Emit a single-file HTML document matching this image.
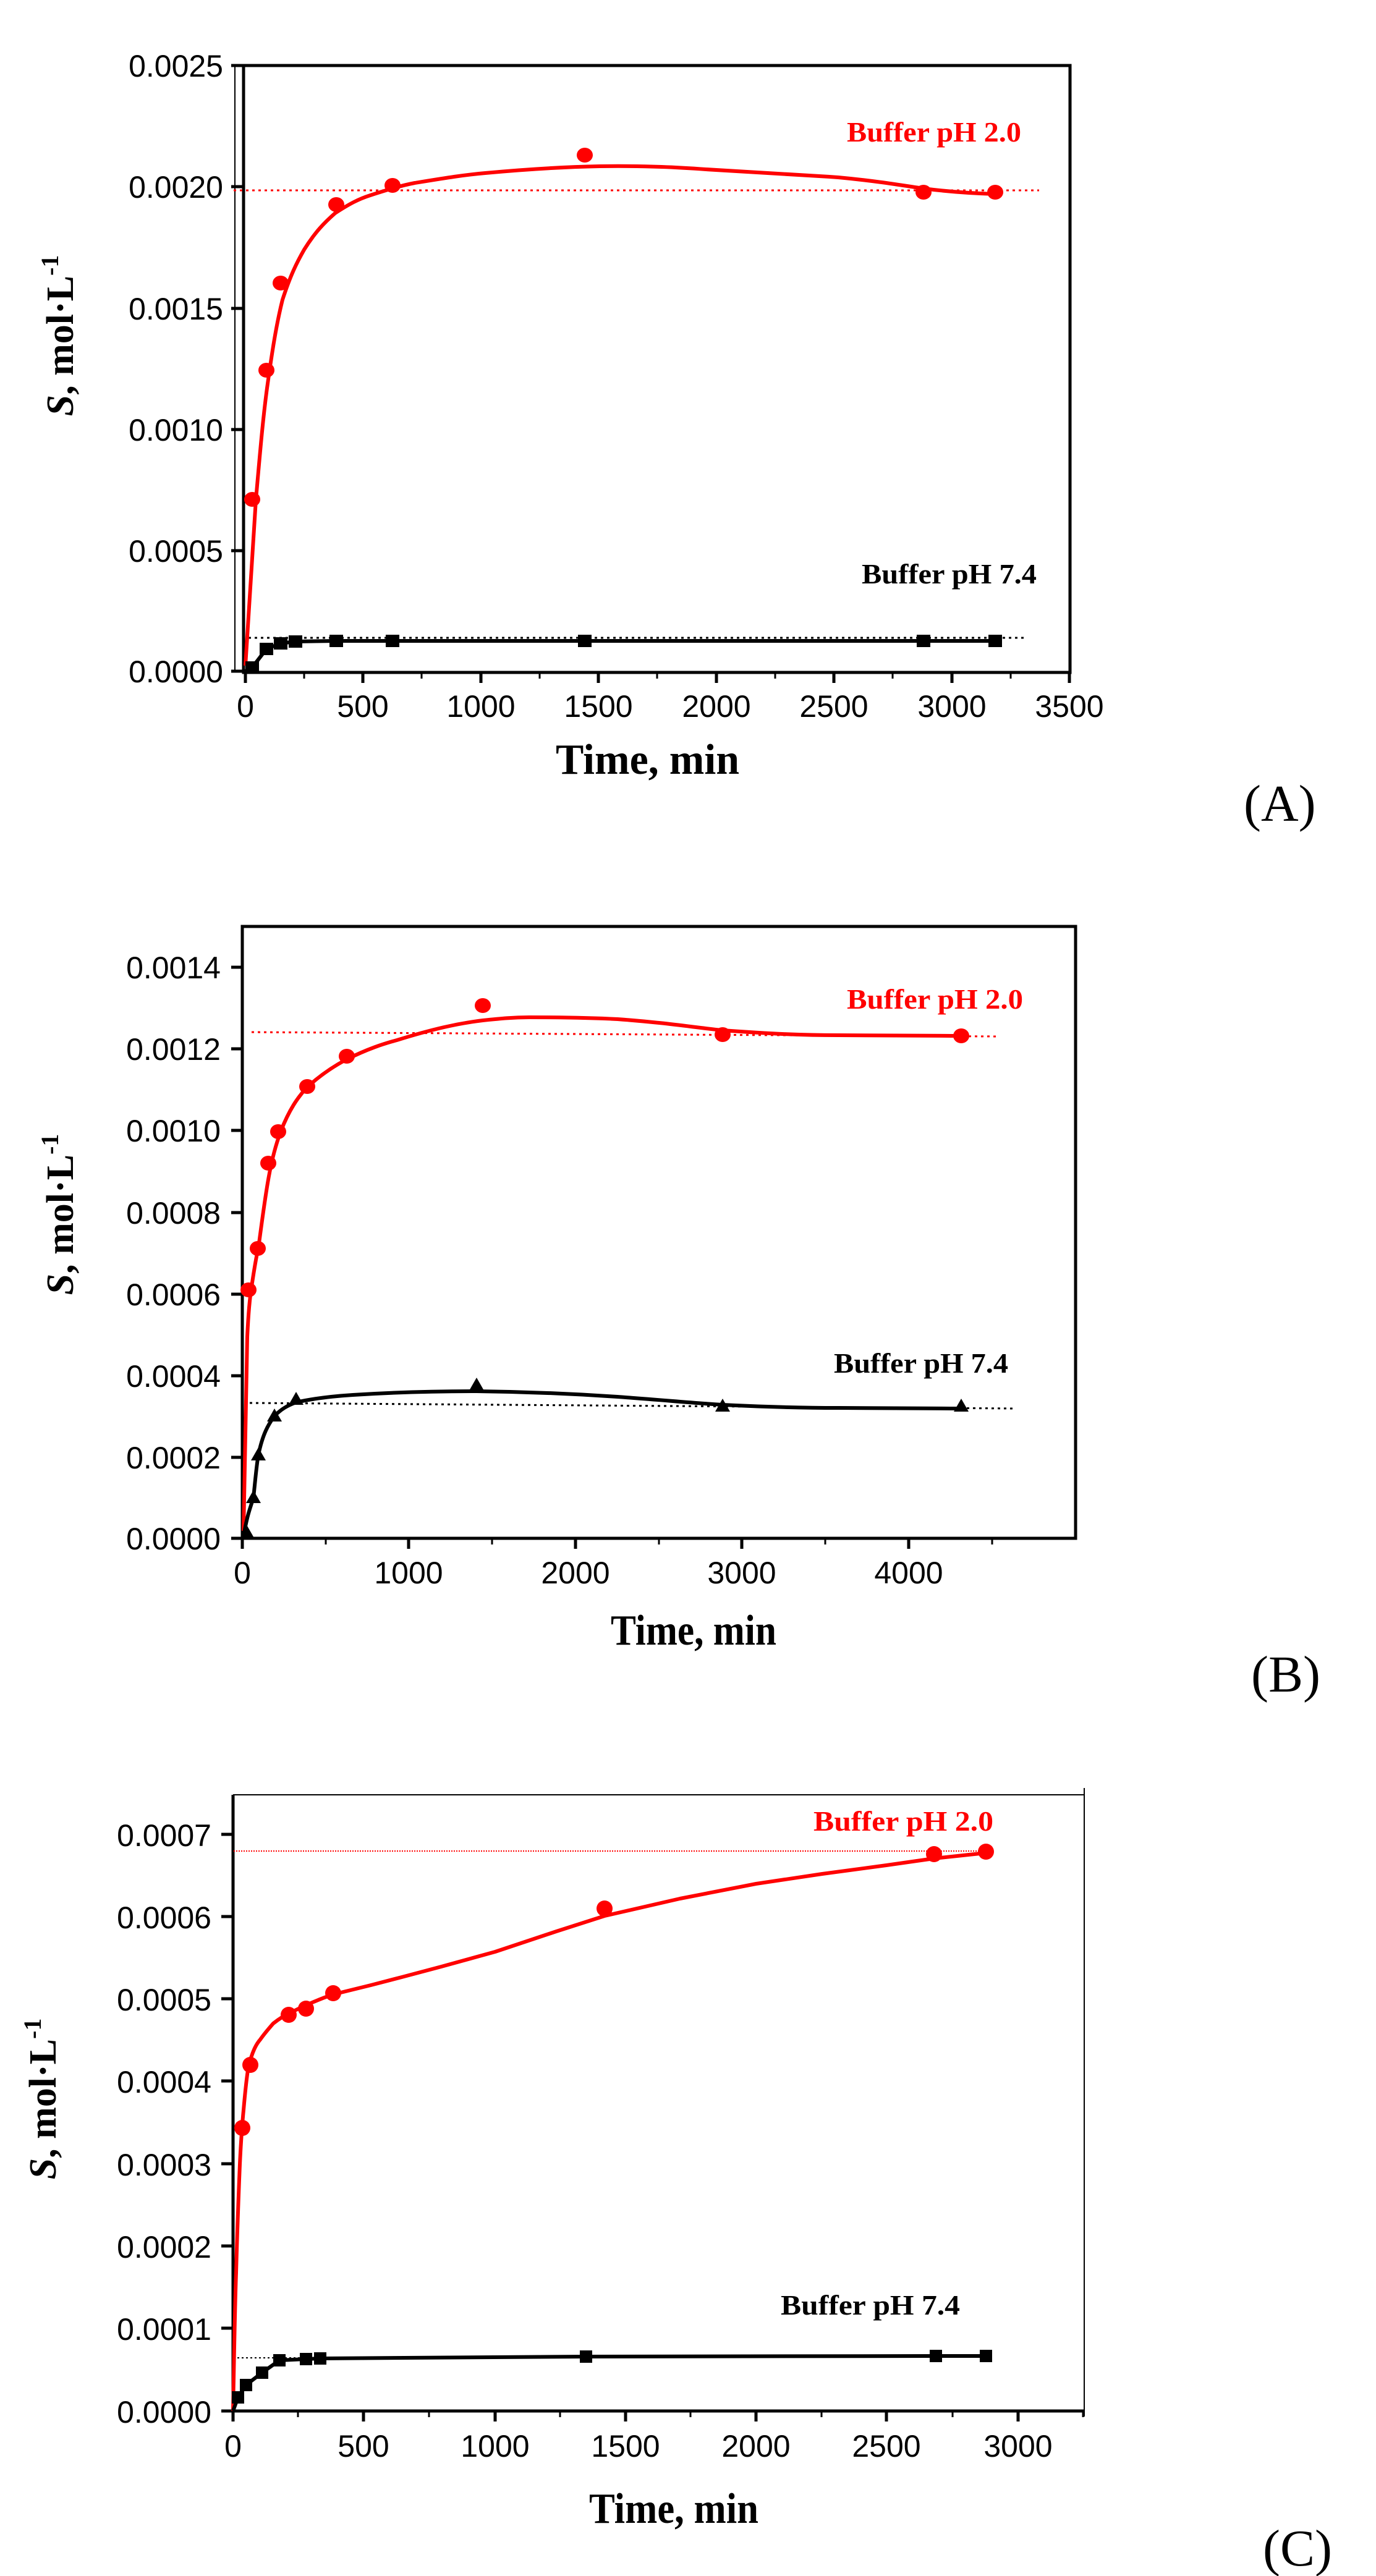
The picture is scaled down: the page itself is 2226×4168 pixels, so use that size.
<!DOCTYPE html>
<html><head><meta charset="utf-8"><style>
html,body{margin:0;padding:0;background:#fff}
svg{display:block}
.tl{font-family:"Liberation Sans",sans-serif;font-size:50px;fill:#000}
.ax{font-family:"Liberation Serif",serif;font-weight:bold;font-size:70px;fill:#000}
.yl{font-family:"Liberation Serif",serif;font-weight:bold;font-size:62px;fill:#000}
.lb{font-family:"Liberation Serif",serif;font-weight:bold;font-size:46px}
.pl{font-family:"Liberation Serif",serif;font-size:84px;fill:#000}
</style></head><body>
<svg width="2226" height="4168" viewBox="0 0 2226 4168" xmlns="http://www.w3.org/2000/svg">
<rect width="2226" height="4168" fill="#fff"/>

<!-- ============ PANEL A ============ -->
<g>
<line x1="380" y1="106" x2="380" y2="1088" stroke="#000" stroke-width="2"/>
<path d="M394 106 H1731 V1088 H394 Z" fill="none" stroke="#000" stroke-width="5"/>
<g stroke="#000" stroke-width="5">
<line x1="374" y1="106" x2="394" y2="106"/><line x1="374" y1="302" x2="394" y2="302"/>
<line x1="374" y1="499" x2="394" y2="499"/><line x1="374" y1="695" x2="394" y2="695"/>
<line x1="374" y1="891" x2="394" y2="891"/><line x1="374" y1="1086" x2="394" y2="1086"/>
<line x1="397" y1="1088" x2="397" y2="1105"/><line x1="587" y1="1088" x2="587" y2="1105"/>
<line x1="778" y1="1088" x2="778" y2="1105"/><line x1="968" y1="1088" x2="968" y2="1105"/>
<line x1="1159" y1="1088" x2="1159" y2="1105"/><line x1="1349" y1="1088" x2="1349" y2="1105"/>
<line x1="1540" y1="1088" x2="1540" y2="1105"/><line x1="1730" y1="1088" x2="1730" y2="1105"/>
</g>
<g stroke="#000" stroke-width="3">
<line x1="492" y1="1088" x2="492" y2="1098"/><line x1="682" y1="1088" x2="682" y2="1098"/>
<line x1="873" y1="1088" x2="873" y2="1098"/><line x1="1063" y1="1088" x2="1063" y2="1098"/>
<line x1="1254" y1="1088" x2="1254" y2="1098"/><line x1="1444" y1="1088" x2="1444" y2="1098"/>
<line x1="1635" y1="1088" x2="1635" y2="1098"/>
</g>
<g class="tl" text-anchor="end">
<text x="361" y="124">0.0025</text><text x="361" y="320">0.0020</text>
<text x="361" y="517">0.0015</text><text x="361" y="713">0.0010</text>
<text x="361" y="909">0.0005</text><text x="361" y="1104">0.0000</text>
</g>
<g class="tl" text-anchor="middle">
<text x="397" y="1160">0</text><text x="587" y="1160">500</text><text x="778" y="1160">1000</text>
<text x="968" y="1160">1500</text><text x="1159" y="1160">2000</text><text x="1349" y="1160">2500</text>
<text x="1540" y="1160">3000</text><text x="1730" y="1160">3500</text>
</g>
<text class="ax" x="899" y="1252" textLength="297" lengthAdjust="spacingAndGlyphs">Time, min</text>
<text class="yl" transform="translate(118,543) rotate(-90)" text-anchor="middle"><tspan font-style="italic">S</tspan>, mol·L<tspan dy="-24" font-size="40">-1</tspan></text>
<text class="pl" x="2012" y="1328">(A)</text>
<text class="lb" fill="#f00" x="1370" y="229" textLength="282" lengthAdjust="spacingAndGlyphs">Buffer pH 2.0</text>
<text class="lb" fill="#000" x="1394" y="944" textLength="283" lengthAdjust="spacingAndGlyphs">Buffer pH 7.4</text>
<line x1="378" y1="308" x2="1681" y2="308" stroke="#f00" stroke-width="3" stroke-dasharray="4,6"/>
<line x1="402" y1="1032" x2="1662" y2="1032" stroke="#000" stroke-width="3" stroke-dasharray="4,6"/>
<path d="M397 1077 C405 950 410 860 414 808 C420 740 425 680 432 628 C440 570 447 525 457 485 C470 445 480 425 492 404 C510 375 525 360 542 345 C565 330 580 322 599 316 C630 306 650 300 671 296 C720 288 750 283 785 280 C860 273 920 270 970 269 C1050 268 1100 271 1142 274 C1250 281 1300 283 1356 287 C1420 293 1460 300 1494 305 C1540 311 1580 313 1610 314" fill="none" stroke="#f00" stroke-width="6"/>
<g fill="#f00">
<ellipse cx="408" cy="808" rx="13" ry="12"/><ellipse cx="431" cy="599" rx="13" ry="12"/>
<ellipse cx="454" cy="458" rx="13" ry="12"/><ellipse cx="544" cy="331" rx="13" ry="12"/>
<ellipse cx="635" cy="300" rx="13" ry="12"/><ellipse cx="946" cy="251" rx="13" ry="12"/>
<ellipse cx="1494" cy="311" rx="13" ry="12"/><ellipse cx="1610" cy="311" rx="13" ry="12"/>
</g>
<polyline points="397,1086 408,1080 431,1050 454,1041 478,1038 544,1037 635,1037 946,1037 1494,1037 1610,1037" fill="none" stroke="#000" stroke-width="6"/>
<g fill="#000">
<rect x="397" y="1070" width="22" height="20"/><rect x="420" y="1040" width="22" height="20"/>
<rect x="443" y="1031" width="22" height="20"/><rect x="467" y="1028" width="22" height="20"/>
<rect x="533" y="1027" width="22" height="20"/><rect x="624" y="1027" width="22" height="20"/>
<rect x="935" y="1027" width="22" height="20"/><rect x="1483" y="1027" width="22" height="20"/>
<rect x="1599" y="1027" width="22" height="20"/>
</g>
</g>

<!-- ============ PANEL B ============ -->
<g>
<path d="M392 1499 H1740 V2489 H392 Z" fill="none" stroke="#000" stroke-width="5"/>
<g stroke="#000" stroke-width="5">
<line x1="374" y1="1565" x2="392" y2="1565"/><line x1="374" y1="1697" x2="392" y2="1697"/>
<line x1="374" y1="1829" x2="392" y2="1829"/><line x1="374" y1="1962" x2="392" y2="1962"/>
<line x1="374" y1="2094" x2="392" y2="2094"/><line x1="374" y1="2226" x2="392" y2="2226"/>
<line x1="374" y1="2358" x2="392" y2="2358"/><line x1="374" y1="2489" x2="392" y2="2489"/>
<line x1="392" y1="2489" x2="392" y2="2506"/><line x1="661" y1="2489" x2="661" y2="2506"/>
<line x1="931" y1="2489" x2="931" y2="2506"/><line x1="1200" y1="2489" x2="1200" y2="2506"/>
<line x1="1470" y1="2489" x2="1470" y2="2506"/>
</g>
<g stroke="#000" stroke-width="3">
<line x1="527" y1="2489" x2="527" y2="2499"/><line x1="796" y1="2489" x2="796" y2="2499"/>
<line x1="1066" y1="2489" x2="1066" y2="2499"/><line x1="1335" y1="2489" x2="1335" y2="2499"/>
<line x1="1605" y1="2489" x2="1605" y2="2499"/>
</g>
<g class="tl" text-anchor="end">
<text x="357" y="1583">0.0014</text><text x="357" y="1715">0.0012</text>
<text x="357" y="1847">0.0010</text><text x="357" y="1980">0.0008</text>
<text x="357" y="2112">0.0006</text><text x="357" y="2244">0.0004</text>
<text x="357" y="2376">0.0002</text><text x="357" y="2507">0.0000</text>
</g>
<g class="tl" text-anchor="middle">
<text x="392" y="2562">0</text><text x="661" y="2562">1000</text><text x="931" y="2562">2000</text>
<text x="1200" y="2562">3000</text><text x="1470" y="2562">4000</text>
</g>
<text class="ax" x="988" y="2661" textLength="268" lengthAdjust="spacingAndGlyphs">Time, min</text>
<text class="yl" transform="translate(118,1965) rotate(-90)" text-anchor="middle"><tspan font-style="italic">S</tspan>, mol·L<tspan dy="-24" font-size="40">-1</tspan></text>
<text class="pl" x="2024" y="2737">(B)</text>
<text class="lb" fill="#f00" x="1370" y="1632" textLength="285" lengthAdjust="spacingAndGlyphs">Buffer pH 2.0</text>
<text class="lb" fill="#000" x="1349" y="2221" textLength="282" lengthAdjust="spacingAndGlyphs">Buffer pH 7.4</text>
<line x1="407" y1="1670" x2="1613" y2="1677" stroke="#f00" stroke-width="3" stroke-dasharray="4,6"/>
<line x1="404" y1="2270" x2="1641" y2="2279" stroke="#000" stroke-width="3" stroke-dasharray="4,6"/>
<path d="M394 2477 C397 2350 398 2230 400 2163 C402 2120 404 2100 407 2082 C411 2055 414 2035 418 2019 C424 1975 429 1935 435 1903 C441 1870 447 1850 454 1831 C468 1795 482 1775 497 1759 C520 1738 540 1725 561 1714 C595 1697 620 1689 642 1683 C700 1665 740 1656 781 1651 C810 1648 830 1646 856 1646 C920 1646 960 1647 999 1649 C1080 1655 1120 1662 1169 1667 C1250 1673 1300 1675 1356 1675 C1450 1676 1500 1676 1555 1676" fill="none" stroke="#f00" stroke-width="6"/>
<g fill="#f00">
<ellipse cx="402" cy="2087" rx="13" ry="12"/><ellipse cx="417" cy="2020" rx="13" ry="12"/>
<ellipse cx="434" cy="1882" rx="13" ry="12"/><ellipse cx="450" cy="1831" rx="13" ry="12"/>
<ellipse cx="497" cy="1758" rx="13" ry="12"/><ellipse cx="561" cy="1709" rx="13" ry="12"/>
<ellipse cx="781" cy="1627" rx="13" ry="12"/><ellipse cx="1169" cy="1674" rx="13" ry="12"/>
<ellipse cx="1555" cy="1676" rx="13" ry="12"/>
</g>
<path d="M394 2486 C400 2450 405 2440 410 2423 C413 2395 415 2370 418 2354 C425 2320 434 2305 444 2291 C455 2280 465 2274 479 2269 C510 2262 540 2259 571 2257 C650 2252 720 2251 771 2251 C860 2252 940 2256 999 2260 C1080 2266 1120 2270 1169 2273 C1250 2277 1300 2278 1356 2278 C1450 2279 1500 2279 1555 2279" fill="none" stroke="#000" stroke-width="6"/>
<g fill="#000">
<polygon points="400,2469 388,2490 412,2490"/><polygon points="410,2411 398,2432 422,2432"/>
<polygon points="418,2342 406,2363 430,2363"/><polygon points="444,2279 432,2300 456,2300"/>
<polygon points="479,2252 467,2273 491,2273"/><polygon points="771,2229 759,2250 783,2250"/>
<polygon points="1169,2263 1157,2284 1181,2284"/><polygon points="1555,2263 1543,2284 1567,2284"/>
</g>
</g>

<!-- ============ PANEL C ============ -->
<g>
<line x1="377" y1="2904" x2="1754" y2="2904" stroke="#000" stroke-width="2"/>
<line x1="1754" y1="2893" x2="1754" y2="3910" stroke="#000" stroke-width="2"/>
<line x1="377" y1="2904" x2="377" y2="3903" stroke="#000" stroke-width="5"/>
<line x1="377" y1="3901" x2="1754" y2="3901" stroke="#000" stroke-width="5"/>
<g stroke="#000" stroke-width="5">
<line x1="358" y1="2968" x2="377" y2="2968"/><line x1="358" y1="3101" x2="377" y2="3101"/>
<line x1="358" y1="3234" x2="377" y2="3234"/><line x1="358" y1="3367" x2="377" y2="3367"/>
<line x1="358" y1="3501" x2="377" y2="3501"/><line x1="358" y1="3634" x2="377" y2="3634"/>
<line x1="358" y1="3767" x2="377" y2="3767"/><line x1="358" y1="3901" x2="377" y2="3901"/>
<line x1="377" y1="3901" x2="377" y2="3918"/><line x1="588" y1="3901" x2="588" y2="3918"/>
<line x1="801" y1="3901" x2="801" y2="3918"/><line x1="1012" y1="3901" x2="1012" y2="3918"/>
<line x1="1223" y1="3901" x2="1223" y2="3918"/><line x1="1434" y1="3901" x2="1434" y2="3918"/>
<line x1="1647" y1="3901" x2="1647" y2="3918"/>
</g>
<g stroke="#000" stroke-width="3">
<line x1="482" y1="3901" x2="482" y2="3911"/><line x1="694" y1="3901" x2="694" y2="3911"/>
<line x1="906" y1="3901" x2="906" y2="3911"/><line x1="1117" y1="3901" x2="1117" y2="3911"/>
<line x1="1329" y1="3901" x2="1329" y2="3911"/><line x1="1541" y1="3901" x2="1541" y2="3911"/>
<line x1="1752" y1="3901" x2="1752" y2="3911"/>
</g>
<g class="tl" text-anchor="end" font-size="52">
<text x="342" y="2987">0.0007</text><text x="342" y="3120">0.0006</text>
<text x="342" y="3253">0.0005</text><text x="342" y="3386">0.0004</text>
<text x="342" y="3520">0.0003</text><text x="342" y="3653">0.0002</text>
<text x="342" y="3786">0.0001</text><text x="342" y="3920">0.0000</text>
</g>
<g class="tl" text-anchor="middle" font-size="52">
<text x="377" y="3975">0</text><text x="588" y="3975">500</text><text x="801" y="3975">1000</text>
<text x="1012" y="3975">1500</text><text x="1223" y="3975">2000</text><text x="1434" y="3975">2500</text>
<text x="1647" y="3975">3000</text>
</g>
<text class="ax" x="953" y="4082" textLength="274" lengthAdjust="spacingAndGlyphs">Time, min</text>
<text class="yl" transform="translate(90,3396) rotate(-90)" text-anchor="middle"><tspan font-style="italic">S</tspan>, mol·L<tspan dy="-24" font-size="40">-1</tspan></text>
<text class="pl" x="2043" y="4151">(C)</text>
<text class="lb" fill="#f00" x="1316" y="2962" textLength="291" lengthAdjust="spacingAndGlyphs">Buffer pH 2.0</text>
<text class="lb" fill="#000" x="1263" y="3745" textLength="290" lengthAdjust="spacingAndGlyphs">Buffer pH 7.4</text>
<line x1="378" y1="2995" x2="1595" y2="2995" stroke="#f00" stroke-width="2" stroke-dasharray="2,2"/>
<line x1="377" y1="3815" x2="542" y2="3815" stroke="#000" stroke-width="2" stroke-dasharray="3,4"/>
<path d="M377 3901 C379 3800 380 3730 382 3677 C384 3600 386 3550 388 3502 C390 3460 392 3435 394 3414 C397 3380 399 3360 402 3344 C408 3320 414 3308 421 3300 C428 3290 435 3282 442 3274 C452 3266 460 3261 471 3256 C495 3244 515 3235 539 3227" fill="none" stroke="#f00" stroke-width="6" stroke-linejoin="round"/>
<polyline points="539,3227 600,3212 650,3199 714,3182 801,3158 900,3125 978,3100 1100,3072 1223,3048 1330,3032 1434,3018 1511,3007 1595,2998" fill="none" stroke="#f00" stroke-width="6" stroke-linejoin="round"/>
<g fill="#f00">
<ellipse cx="392" cy="3443" rx="13" ry="13"/><ellipse cx="405" cy="3341" rx="13" ry="13"/>
<ellipse cx="467" cy="3260" rx="13" ry="13"/><ellipse cx="495" cy="3250" rx="13" ry="13"/>
<ellipse cx="539" cy="3225" rx="13" ry="13"/><ellipse cx="978" cy="3088" rx="13" ry="13"/>
<ellipse cx="1511" cy="3000" rx="13" ry="13"/><ellipse cx="1595" cy="2996" rx="13" ry="13"/>
</g>
<polyline points="377,3901 385,3879 398,3859 424,3839 452,3819 495,3817 518,3816 948,3813 1514,3812 1595,3812" fill="none" stroke="#000" stroke-width="6"/>
<g fill="#000">
<rect x="375" y="3869" width="20" height="20"/><rect x="388" y="3849" width="20" height="20"/>
<rect x="414" y="3829" width="20" height="20"/><rect x="442" y="3809" width="20" height="20"/>
<rect x="485" y="3807" width="20" height="20"/><rect x="508" y="3806" width="20" height="20"/>
<rect x="938" y="3803" width="20" height="20"/><rect x="1504" y="3802" width="20" height="20"/>
<rect x="1585" y="3802" width="20" height="20"/>
</g>
</g>
</svg>
</body></html>
